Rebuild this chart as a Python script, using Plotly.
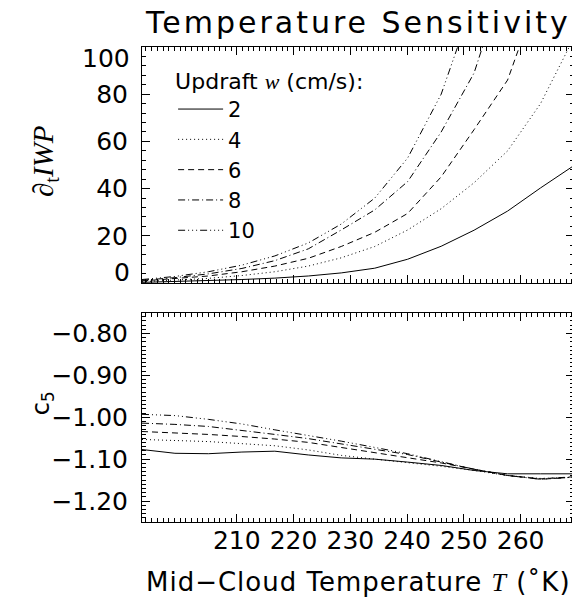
import plotly.graph_objects as go
from plotly.subplots import make_subplots

# mid-cloud temperature (K)
temp = [193.3, 199.1, 205.0, 210.9, 216.7, 222.6, 228.4, 234.3, 240.1, 246.0, 251.8, 257.7, 263.5, 269.4]
temp_ticks = [210, 220, 230, 240, 250, 260]

updrafts = ['2', '4', '6', '8', '10']

# d_t IWP for each updraft (cm/s)
iwp_2 = [0.3, 0.6, 1.0, 1.5, 2.1, 3.0, 4.3, 6.3, 10.1, 15.6, 22.4, 30.5, 40.3, 49.8]
iwp_4 = [0.6, 1.2, 2.0, 3.2, 4.8, 7.2, 10.7, 15.5, 22.5, 31.5, 42.5, 56.0, 76.0, 104.0]
iwp_6 = [0.9, 1.8, 3.0, 4.8, 7.2, 10.5, 15.5, 21.5, 29.5, 45.0, 65.0, 86.0, 125.0, 165.0]
iwp_8 = [1.2, 2.3, 3.9, 6.2, 9.5, 14.5, 22.5, 31.0, 43.0, 64.0, 89.0, 132.0, 180.0, 220.0]
iwp_10 = [1.5, 2.8, 4.8, 7.6, 11.5, 17.0, 25.0, 36.0, 53.0, 80.0, 120.0, 170.0, 220.0, 270.0]

# c5 coefficient for each updraft
c5_2 = [-1.077, -1.086, -1.087, -1.083, -1.081, -1.090, -1.097, -1.100, -1.107, -1.115, -1.127, -1.135, -1.135, -1.135]
c5_4 = [-1.053, -1.055, -1.058, -1.063, -1.068, -1.078, -1.091, -1.100, -1.108, -1.117, -1.127, -1.139, -1.146, -1.143]
c5_6 = [-1.034, -1.037, -1.041, -1.046, -1.052, -1.060, -1.072, -1.084, -1.096, -1.109, -1.124, -1.139, -1.147, -1.142]
c5_8 = [-1.014, -1.017, -1.022, -1.031, -1.041, -1.051, -1.064, -1.076, -1.089, -1.107, -1.124, -1.139, -1.148, -1.143]
c5_10 = [-0.993, -0.996, -1.005, -1.016, -1.030, -1.043, -1.057, -1.072, -1.087, -1.106, -1.124, -1.139, -1.148, -1.143]

iwp = [iwp_2, iwp_4, iwp_6, iwp_8, iwp_10]
c5 = [c5_2, c5_4, c5_6, c5_8, c5_10]
dashes = ['solid', '1px,3px', '6px,4px', '7px,3px,1px,3px', '7px,3px,1px,3px,1px,3px,1px,3px']

FONT = 'DejaVu Sans'
SERIF = 'Liberation Serif'
TICK_SIZE = 25

fig = make_subplots(rows=2, cols=1, shared_xaxes=False, vertical_spacing=0.0)

for w, y1, y2, d in zip(updrafts, iwp, c5, dashes):
    fig.add_trace(go.Scatter(x=temp, y=y1, mode='lines', name=w,
                             line=dict(color='black', width=1, dash=d)), row=1, col=1)
    fig.add_trace(go.Scatter(x=temp, y=y2, mode='lines', name=w, showlegend=False,
                             line=dict(color='black', width=1, dash=d)), row=2, col=1)

axis_style = dict(showline=True, linecolor='black', linewidth=1, mirror='allticks',
                  ticks='inside', ticklen=8, tickcolor='black', showgrid=False, zeroline=False,
                  automargin=False, tickfont=dict(family=FONT, size=TICK_SIZE, color='black'))

fig.update_xaxes(range=[temp[0], temp[-1]], tickvals=temp_ticks,
                 minor=dict(ticks='inside', ticklen=4, dtick=1, tick0=0, tickcolor='black'), **axis_style)
fig.update_xaxes(showticklabels=False, row=1, col=1)
fig.update_xaxes(ticklabelstandoff=-4, row=2, col=1)

# edge labels 0 and 100 are drawn pulled inside the frame, as in the original
fig.update_yaxes(range=[0, 100], tickvals=[20, 40, 60, 80],
                 minor=dict(ticks='inside', ticklen=4, dtick=4, tickcolor='black'),
                 ticklabelstandoff=8, row=1, col=1, **axis_style)
fig.update_yaxes(range=[-1.25, -0.75], dtick=0.1, tick0=-0.8, tickformat='.2f',
                 minor=dict(ticks='inside', ticklen=4, dtick=0.01, tickcolor='black'),
                 ticklabelstandoff=8, row=2, col=1, **axis_style)

fig.update_layout(yaxis=dict(domain=[0.503, 1.0]), yaxis2=dict(domain=[0.0, 0.441]))

for val, shift in [(100, -11), (0, 11)]:
    fig.add_annotation(text=str(val), xref='paper', yref='y', x=0, y=val, xanchor='right',
                       xshift=-10, yshift=shift, showarrow=False,
                       font=dict(family=FONT, size=TICK_SIZE, color='black'))

fig.add_annotation(text="<span style='letter-spacing:3px'>Temperature Sensitivity</span>",
                   xref='paper', yref='paper', x=0.5, y=1.0,
                   yshift=25, yanchor='middle', showarrow=False,
                   font=dict(family=FONT, size=30, color='black'))
fig.add_annotation(text="<span style='letter-spacing:1px'>Mid\u2212Cloud Temperature "
                        "<span style='font-family:Liberation Serif'><i>T</i></span> (\u02daK)</span>",
                   xref='paper', yref='paper', x=0.5, y=0.0, yshift=-60, yanchor='middle',
                   showarrow=False, font=dict(family=FONT, size=26, color='black'))
fig.add_annotation(text='\u2202<sub>t</sub><i>IWP</i>', xref='paper', yref='paper',
                   x=0.0, xshift=-97, y=0.76, xanchor='center', yanchor='middle',
                   textangle=-90, showarrow=False,
                   font=dict(family=SERIF, size=29, color='black'))
fig.add_annotation(text='c<sub>5</sub>', xref='paper', yref='paper',
                   x=0.0, xshift=-100, y=0.25, xanchor='center', yanchor='middle',
                   textangle=-90, showarrow=False,
                   font=dict(family=FONT, size=24, color='black'))

# the page body adds an 8px offset, so the margins are set 8px short on top/left
fig.update_layout(
    template='none',
    width=580, height=600,
    margin=dict(l=134, r=14, t=39, b=86),
    paper_bgcolor='white', plot_bgcolor='white',
    showlegend=True,
    legend=dict(x=0.072, y=0.972, xanchor='left', yanchor='top', bgcolor='rgba(0,0,0,0)',
                title=dict(text="Updraft <span style='font-family:Liberation Serif'><i>w</i></span> (cm/s):",
                           font=dict(family=FONT, size=22, color='black'), side='top'),
                font=dict(family=FONT, size=21, color='black'),
                itemwidth=45, tracegroupgap=0),
)

fig.write_html("out.html")
